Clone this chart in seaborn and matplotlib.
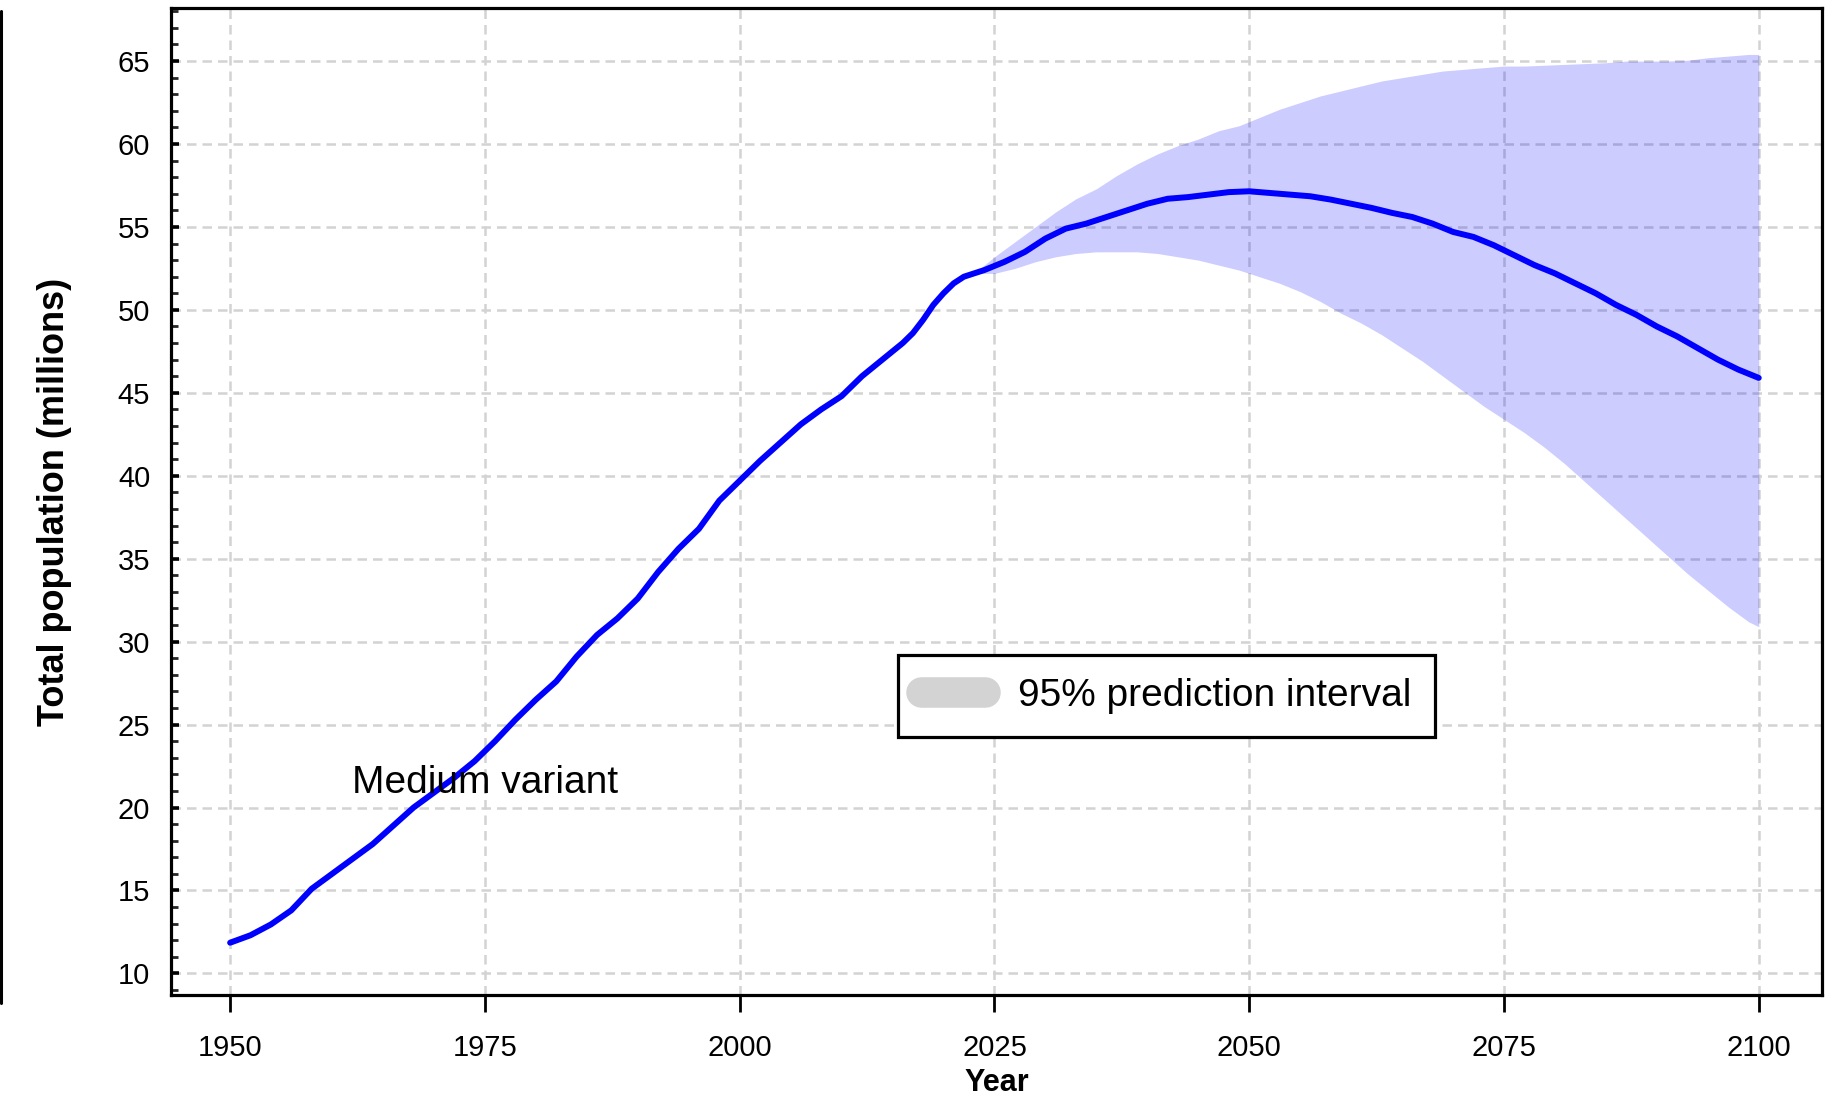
import matplotlib
matplotlib.use("Agg")
import matplotlib.pyplot as plt
from matplotlib.lines import Line2D
from matplotlib.ticker import MultipleLocator
import pandas as pd
import seaborn as sns

# Medium variant (millions)
years = [1950, 1952, 1954, 1956, 1958, 1960, 1962, 1964, 1966, 1968,
         1970, 1972, 1974, 1976, 1978, 1980, 1982, 1984, 1986, 1988,
         1990, 1992, 1994, 1996, 1998, 2000, 2002, 2004, 2006, 2008,
         2010, 2012, 2014, 2016, 2017, 2018, 2019, 2020, 2021, 2022,
         2024, 2026, 2028, 2030, 2032, 2034, 2036, 2038, 2040, 2042,
         2044, 2046, 2048, 2050, 2052, 2054, 2056, 2058, 2060, 2062,
         2064, 2066, 2068, 2070, 2072, 2074, 2076, 2078, 2080, 2082,
         2084, 2086, 2088, 2090, 2092, 2094, 2096, 2098, 2100]
medium = [11.85, 12.3, 12.95, 13.8, 15.1, 16.0, 16.9, 17.8, 18.9, 20.0,
          20.9, 21.8, 22.8, 24.0, 25.3, 26.5, 27.6, 29.1, 30.4, 31.4,
          32.6, 34.2, 35.6, 36.8, 38.5, 39.7, 40.9, 42.0, 43.1, 44.0,
          44.8, 46.0, 47.0, 48.0, 48.6, 49.4, 50.3, 51.0, 51.6, 52.0,
          52.4, 52.9, 53.5, 54.3, 54.9, 55.2, 55.6, 56.0, 56.4, 56.7,
          56.8, 56.95, 57.1, 57.15, 57.05, 56.95, 56.85, 56.65, 56.4, 56.15,
          55.85, 55.6, 55.2, 54.7, 54.4, 53.9, 53.3, 52.7, 52.2, 51.6,
          51.0, 50.3, 49.7, 49.0, 48.4, 47.7, 47.0, 46.4, 45.9]

# 95% prediction interval
pi_years = [2023, 2025, 2027, 2029, 2031, 2033, 2035, 2037, 2039, 2041,
            2043, 2045, 2047, 2049, 2051, 2053, 2055, 2057, 2059, 2061,
            2063, 2065, 2067, 2069, 2071, 2073, 2075, 2077, 2079, 2081,
            2083, 2085, 2087, 2089, 2091, 2093, 2095, 2097, 2099, 2100]
pi_upper = [52.2, 53.2, 54.1, 55.0, 55.9, 56.7, 57.3, 58.1, 58.8, 59.4,
            59.9, 60.3, 60.8, 61.1, 61.6, 62.1, 62.5, 62.9, 63.2, 63.5,
            63.8, 64.0, 64.2, 64.4, 64.5, 64.6, 64.7, 64.7, 64.75, 64.8,
            64.85, 64.9, 65.0, 65.0, 65.0, 65.05, 65.2, 65.3, 65.4, 65.4]
pi_lower = [52.2, 52.2, 52.5, 52.9, 53.2, 53.4, 53.5, 53.5, 53.5, 53.4,
            53.2, 53.0, 52.7, 52.4, 52.0, 51.6, 51.1, 50.5, 49.8, 49.2,
            48.5, 47.7, 46.9, 46.0, 45.1, 44.2, 43.4, 42.6, 41.7, 40.7,
            39.6, 38.5, 37.4, 36.3, 35.2, 34.1, 33.1, 32.1, 31.2, 30.9]

x_ticks = [1950, 1975, 2000, 2025, 2050, 2075, 2100]
y_ticks = [10, 15, 20, 25, 30, 35, 40, 45, 50, 55, 60, 65]

df = pd.DataFrame({"year": years, "pop": medium})
band = pd.DataFrame({"year": pi_years, "lo": pi_lower, "hi": pi_upper})

sns.set_theme(style="white")
plt.rcParams["font.family"] = ["Liberation Sans", "DejaVu Sans"]

fig = plt.figure(figsize=(18.37, 10.96), dpi=100)
ax = fig.add_axes([0.0931, 0.0922, 0.8987, 0.9005])

ax.fill_between(band["year"], band["lo"], band["hi"], color="blue", alpha=0.2,
                linewidth=0, zorder=1)
sns.lineplot(data=df, x="year", y="pop", ax=ax, color="blue", linewidth=4.3,
             zorder=3)

ax.set_xlim(1944.2, 2106.2)
ax.set_ylim(8.7, 68.2)
ax.set_xticks(x_ticks)
ax.set_yticks(y_ticks)
ax.yaxis.set_minor_locator(MultipleLocator(1))

ax.set_axisbelow(True)
ax.grid(True, which="major", color="#d3d3d3", linestyle=(0, (3.8, 2.4)),
        linewidth=1.8)

for side in ["left", "right", "top", "bottom"]:
    ax.spines[side].set_visible(True)
    ax.spines[side].set_color("black")
    ax.spines[side].set_linewidth(2.3)

ax.tick_params(axis="x", which="major", direction="out", bottom=True, top=False,
               length=12, width=2, pad=16, labelsize=21, colors="black")
ax.tick_params(axis="y", which="major", direction="in", left=True, right=False,
               length=6, width=2.6, pad=15, labelsize=21, colors="black")
ax.tick_params(axis="y", which="minor", direction="in", left=True, right=False,
               length=5, width=2)

ax.set_xlabel("Year", fontsize=22, fontweight="bold", color="black")
ax.set_ylabel("Total population (millions)", fontsize=26, fontweight="bold",
              color="black")
ax.xaxis.set_label_coords(0.5, -0.074)
ax.yaxis.set_label_coords(-0.06, 0.5)

ax.text(1962.0, 20.86, "Medium variant", fontsize=28, color="black",
        ha="left", va="baseline", zorder=4)

handle = Line2D([], [], color="#d3d3d3", linewidth=22, solid_capstyle="round")
leg = ax.legend([handle], ["95% prediction interval"], loc="center",
                bbox_to_anchor=(0.603, 0.303), fontsize=28, frameon=True,
                fancybox=False, shadow=False, handlelength=1.65,
                handletextpad=0.85, borderpad=0.6, labelcolor="black")
leg.get_frame().set_edgecolor("black")
leg.get_frame().set_linewidth(2.3)
leg.get_frame().set_facecolor("white")
leg.get_frame().set_alpha(1)

# border of the neighbouring panel at the left edge
fig.add_artist(Line2D([0.0008, 0.0008], [0.99, 0.085], color="black",
                      linewidth=2.2, transform=fig.transFigure))

fig.savefig("out.png", dpi=100)
